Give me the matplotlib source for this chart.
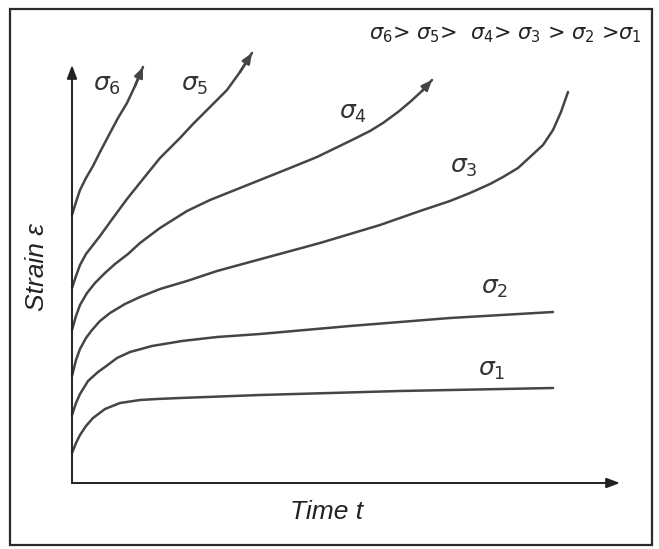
import matplotlib
matplotlib.use('Agg')
import matplotlib.pyplot as plt
from matplotlib.patches import Rectangle
import numpy as np

# creep curves (time t, strain eps), arbitrary units
t1 = [0, 0.4, 0.8, 1.4, 2.1, 3.3, 4.8, 5.8, 6.8, 8.5, 10.8, 18.8, 32.8, 48.1]
e1 = [3.0, 4.0, 4.8, 5.7, 6.5, 7.4, 8.0, 8.15, 8.3, 8.4, 8.5, 8.8, 9.2, 9.5]

t2 = [0, 0.4, 0.8, 1.6, 2.6, 3.3, 4.5, 5.8, 8.0, 11.0, 14.5, 18.8, 27.8, 37.8, 48.1]
e2 = [6.8, 8.0, 8.9, 10.2, 11.1, 11.6, 12.5, 13.1, 13.7, 14.2, 14.6, 14.9, 15.7, 16.5, 17.1]

t3 = [0, 0.4, 0.8, 1.4, 2.0, 2.8, 3.8, 5.3, 6.8, 8.8, 11.5, 14.5, 17.8, 24.8, 30.8,
      34.8, 37.8, 39.8, 41.8, 43.1, 44.6, 45.8, 47.1, 48.1, 48.9, 49.6]
e3 = [10.7, 12.3, 13.4, 14.5, 15.3, 16.2, 17.0, 17.9, 18.6, 19.4, 20.2, 21.2, 22.1, 24.0, 25.8,
      27.2, 28.2, 29.0, 29.9, 30.6, 31.5, 32.6, 33.8, 35.3, 37.1, 39.1]

t4 = [0, 0.4, 0.8, 1.5, 2.3, 3.3, 4.3, 5.6, 6.8, 8.8, 11.5, 13.8, 17.8, 21.8,
      24.5, 27.8, 29.8, 31.1, 32.6, 33.8, 35.0, 36.0]
e4 = [15.3, 16.7, 17.8, 19.0, 20.0, 21.0, 21.9, 22.9, 24.0, 25.5, 27.2, 28.3, 29.9, 31.5,
      32.6, 34.2, 35.2, 36.0, 37.1, 38.1, 39.2, 40.3]

t5 = [0, 0.4, 0.8, 1.4, 2.1, 2.8, 4.1, 5.5, 6.7, 8.8, 10.8, 12.1, 13.8, 15.5, 16.8, 18.0]
e5 = [19.5, 20.7, 21.8, 22.9, 23.8, 24.7, 26.5, 28.4, 29.9, 32.5, 34.5, 35.9, 37.6, 39.3, 41.1, 43.0]

t6 = [0, 0.4, 0.8, 1.4, 2.1, 2.8, 3.8, 4.6, 5.5, 6.3, 7.1]
e6 = [26.8, 28.1, 29.3, 30.5, 31.7, 33.1, 35.0, 36.5, 38.0, 39.7, 41.6]

curves = [(t1, e1), (t2, e2), (t3, e3), (t4, e4), (t5, e5), (t6, e6)]
has_arrow = [False, False, False, True, True, True]

labels = [r'$\sigma_1$', r'$\sigma_2$', r'$\sigma_3$', r'$\sigma_4$', r'$\sigma_5$', r'$\sigma_6$']
label_t = [42.0, 42.3, 39.2, 28.1, 12.3, 3.5]
label_e = [11.3, 19.5, 31.6, 37.0, 39.8, 39.8]

t_max = 54.8
e_max = 41.8

fig = plt.figure(figsize=(6.59, 5.49), dpi=100)
ax = fig.add_axes([0, 0, 1, 1])
ax.set_xlim(-7.2, 58.7)
ax.set_ylim(-6.6, 48.3)
ax.axis('off')

# outer frame
fig.patches.append(Rectangle((10 / 659, 4 / 549), 642 / 659, 536 / 549,
                             transform=fig.transFigure, fill=False,
                             edgecolor='#2a2a2a', linewidth=1.6))

line_col = '#454545'
for (t, e), arr in zip(curves, has_arrow):
    ax.plot(t, e, color=line_col, lw=1.8, solid_capstyle='round', solid_joinstyle='round')
    if arr:
        ax.annotate('', xy=(t[-1], e[-1]), xytext=(t[-2], e[-2]),
                    arrowprops=dict(arrowstyle='-|>,head_length=0.6,head_width=0.25',
                                    color=line_col, lw=1.8, shrinkA=0, shrinkB=0))

for lab, x, y in zip(labels, label_t, label_e):
    ax.text(x, y, lab, fontsize=18, ha='center', va='center', color='#333333')

# axes with arrows
ax.annotate('', xy=(t_max, 0), xytext=(0, 0),
            arrowprops=dict(arrowstyle='-|>,head_length=0.8,head_width=0.3',
                            color='#222222', lw=1.4, shrinkA=0, shrinkB=0))
ax.annotate('', xy=(0, e_max), xytext=(0, 0),
            arrowprops=dict(arrowstyle='-|>,head_length=0.8,head_width=0.3',
                            color='#222222', lw=1.4, shrinkA=0, shrinkB=0))

ax.text(25.5, -2.9, 'Time t', fontsize=19, style='italic', ha='center', va='center',
        family=['Liberation Sans', 'DejaVu Sans'], color='#222222')
ax.text(-3.5, 21.6, 'Strain ε', fontsize=19, style='italic', ha='center', va='center',
        rotation=90, family=['Liberation Sans', 'DejaVu Sans'], color='#222222')

ax.text(43.3, 44.8, r'$\sigma_6$> $\sigma_5$>  $\sigma_4$> $\sigma_3$ > $\sigma_2$ >$\sigma_1$',
        fontsize=15, ha='center', va='center', color='#222222')

fig.savefig('out.png', dpi=100)
